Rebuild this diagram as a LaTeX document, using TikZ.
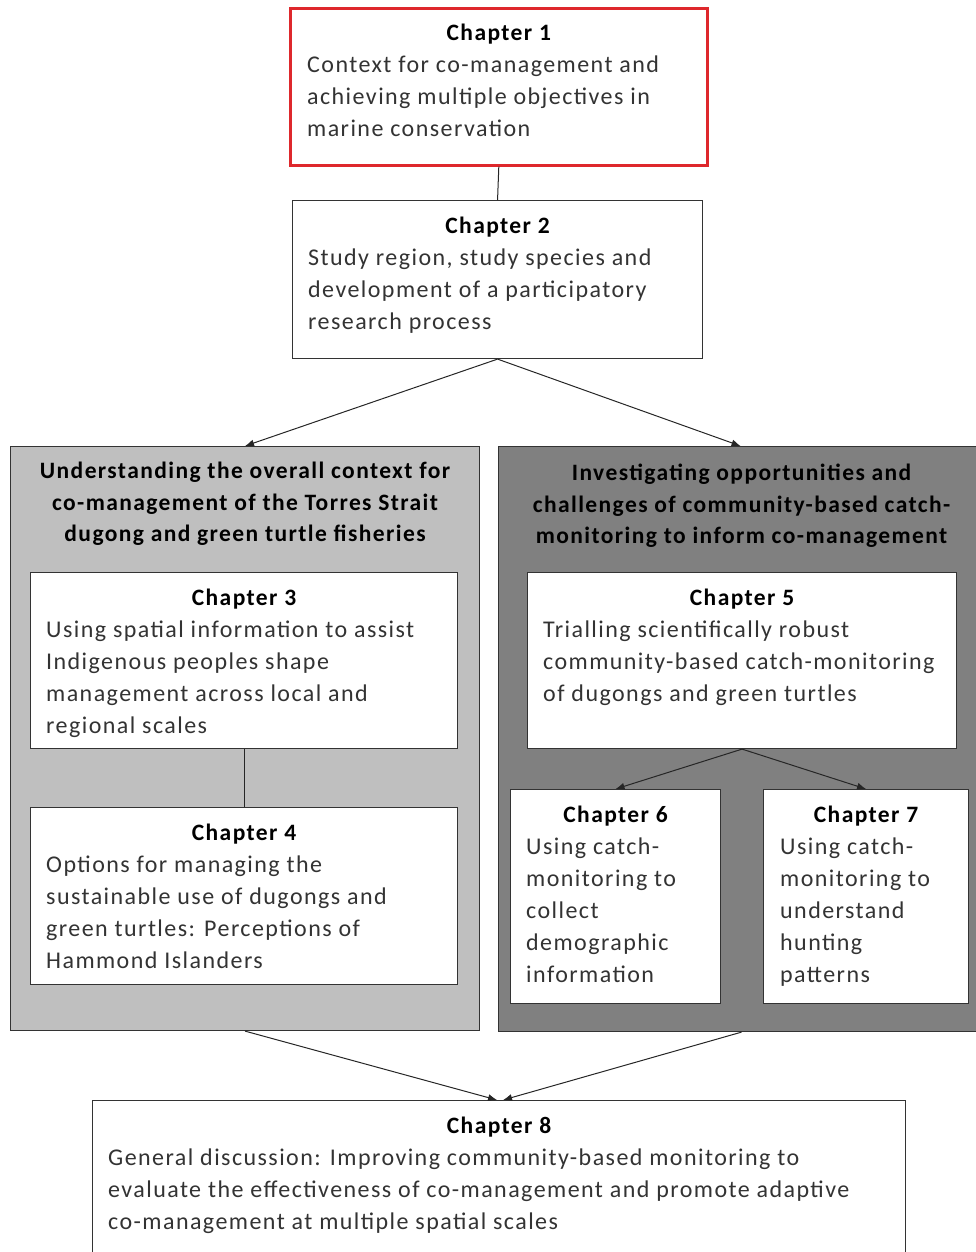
\documentclass[tikz,border=0pt]{standalone}
\usepackage{fontspec}
\setmainfont{Carlito}[LetterSpace=6]
\usepackage{tikz}
\usetikzlibrary{arrows.meta,calc}

\definecolor{boxred}{RGB}{222,40,44}
\tikzset{
  chapbox/.style={draw=black!80, line width=1.1pt, fill=white, anchor=north west, inner sep=0pt},
  panel/.style={draw=black!80, line width=1.1pt, anchor=north west, inner sep=0pt},
  head/.style={font=\fontsize{23.5}{32}\selectfont\bfseries, anchor=base, inner sep=0pt},
  paneltitle/.style={font=\fontsize{23.5}{31.5}\selectfont\bfseries, align=center, anchor=north, inner sep=0pt, execute at begin node=\strut},
  body/.style={font=\fontsize{24}{32}\selectfont, align=left, anchor=north west, inner sep=0pt, text=black!80, execute at begin node=\strut},
  link/.style={draw=black!85, line width=1pt},
  flow/.style={link, -{Latex[length=9pt,width=7pt]}}
}

\begin{document}
\begin{tikzpicture}[x=1pt,y=-1pt]
\useasboundingbox (0,0) rectangle (976,1252);

% the two grey panels
\node[panel, fill=black!25, minimum width=469pt, minimum height=584pt] (lp) at (10,446) {};
\node[panel, fill=black!50, minimum width=478pt, minimum height=585pt] (rp) at (498,446) {};
\node[paneltitle] (lpt) at ($(lp.north)+(0,16)$) {Understanding the overall context for\\co-management of the Torres Strait\\dugong and green turtle fisheries};
\node[paneltitle] (rpt) at ($(rp.north)+(4,18)$) {Investigating opportunities and\\challenges of community-based catch-\\monitoring to inform co-management};

% chapter boxes
\node[chapbox, draw=boxred, line width=2.6pt, minimum width=417pt, minimum height=157pt] (ch1) at (289,7) {};
\node[chapbox, minimum width=410pt, minimum height=158pt] (ch2) at (292,200) {};
\node[chapbox, minimum width=427pt, minimum height=176pt] (ch3) at (30,572) {};
\node[chapbox, minimum width=427pt, minimum height=177pt] (ch4) at (30,807) {};
\node[chapbox, minimum width=429pt, minimum height=176pt] (ch5) at (527,572) {};
\node[chapbox, minimum width=210pt, minimum height=214pt] (ch6) at (510,789) {};
\node[chapbox, minimum width=205pt, minimum height=214pt] (ch7) at (763,789) {};
\node[chapbox, minimum width=813pt, minimum height=170pt] (ch8) at (92,1100) {};

\foreach \c/\n in {ch1/1,ch2/2,ch3/3,ch4/4,ch5/5,ch6/6,ch7/7,ch8/8}
  \node[head] (\c h) at ($(\c.north)+(0,33.5)$) {Chapter \n};

\node[body] (ch1t) at ($(ch1.north west)+(18,48.5)$) {Context for co-management and\\achieving multiple objectives in\\marine conservation};
\node[body] (ch2t) at ($(ch2.north west)+(16,48.5)$) {Study region, study species and\\development of a participatory\\research process};
\node[body] (ch3t) at ($(ch3.north west)+(16,48.5)$) {Using spatial information to assist\\Indigenous peoples shape\\management across local and\\regional scales};
\node[body] (ch4t) at ($(ch4.north west)+(16,48.5)$) {Options for managing the\\sustainable use of dugongs and\\green turtles: Perceptions of\\Hammond Islanders};
\node[body] (ch5t) at ($(ch5.north west)+(16,48.5)$) {Trialling scientifically robust\\community-based catch-monitoring\\of dugongs and green turtles};
\node[body] (ch6t) at ($(ch6.north west)+(16,48.5)$) {Using catch-\\monitoring to\\collect\\demographic\\information};
\node[body] (ch7t) at ($(ch7.north west)+(17,48.5)$) {Using catch-\\monitoring to\\understand\\hunting\\patterns};
\node[body] (ch8t) at ($(ch8.north west)+(16,48.5)$) {General discussion: Improving community-based monitoring to\\evaluate the effectiveness of co-management and promote adaptive\\co-management at multiple spatial scales};

% connectors
\draw[link] (ch1.south) -- (ch2.north);
\draw[link] (ch3.south) -- (ch4.north);
\draw[flow] (ch2.south) -- (lp.north);
\draw[flow] (ch2.south) -- ([xshift=3pt]rp.north);
\draw[flow] (ch5.south) -- (ch6.north);
\draw[flow] (ch5.south) -- (ch7.north);
\draw[flow] (lp.south) -- ([xshift=-2pt]ch8.north);
\draw[flow] ([xshift=4pt]rp.south) -- ([xshift=4pt]ch8.north);
\end{tikzpicture}
\end{document}
